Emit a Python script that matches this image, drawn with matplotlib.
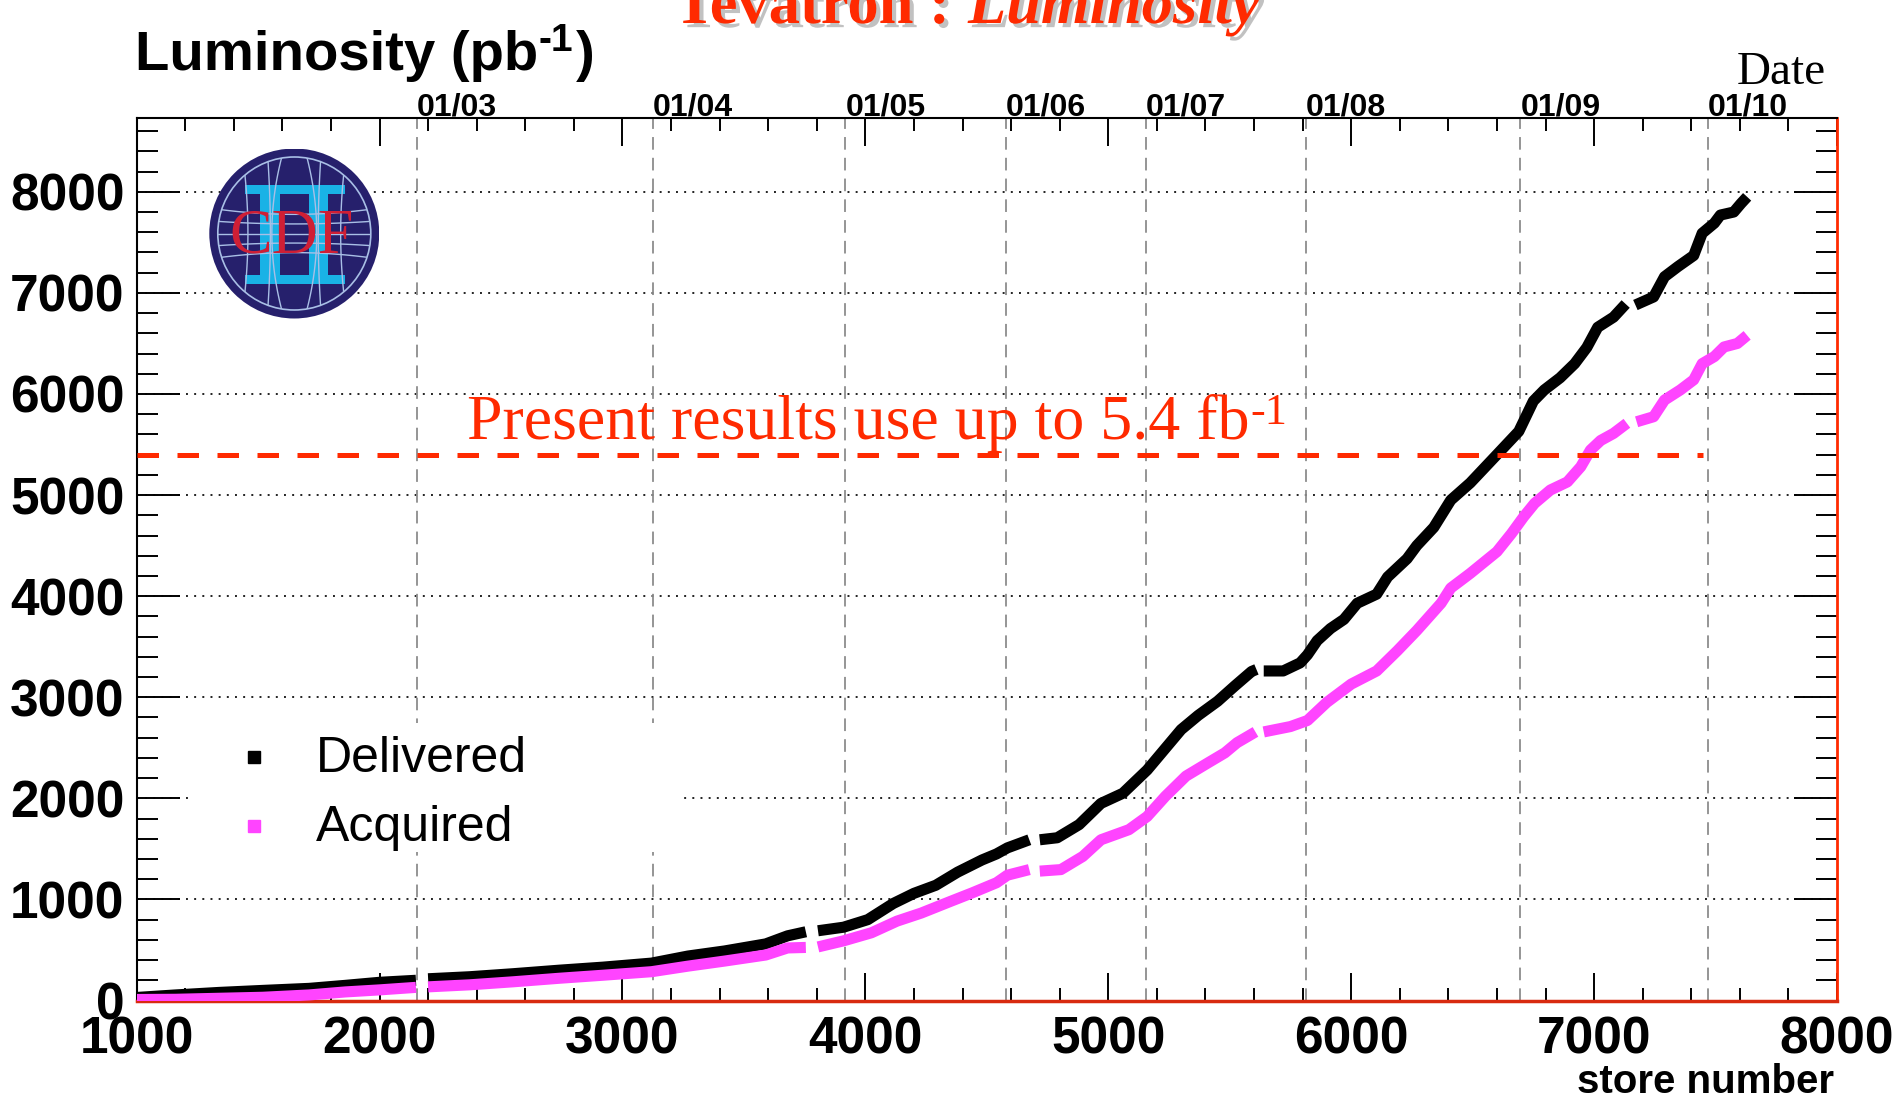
import numpy as np
import matplotlib
matplotlib.use('Agg')
import matplotlib.pyplot as plt
import matplotlib.patheffects as pe
from matplotlib.patches import Circle, Rectangle
from matplotlib.ticker import MultipleLocator

plt.rcParams['font.family'] = ['Liberation Sans', 'DejaVu Sans']

nan = np.nan

# -- data (nan = gap between stores)
deliv_store = [1000, 1160, 1340, 1520, 1710, 1860, 2000, 2150, nan,
               2200, 2370, 2550, 2740, 2920, 3120, 3270, 3420, 3590, 3680, 3755, nan,
               3805, 3910, 4010, 4115, 4200, 4290, 4380, 4480, 4540, 4585, 4675, nan,
               4718, 4790, 4880, 4970, 5060, 5160, 5230, 5300, 5370, 5450, 5520, 5590, 5610, nan,
               5640, 5720, 5790, 5820, 5860, 5915, 5970, 6025, 6105, 6150, 6230, 6270, 6340,
               6410, 6490, 6600, 6690, 6750, 6795, 6860, 6920, 6970, 7015, 7080, 7130, nan,
               7170, 7245, 7290, 7345, 7410, 7445, 7495, 7520, 7575, 7605, 7630]
deliv_lumi = [30, 55, 80, 100, 120, 150, 180, 200, nan,
              215, 235, 265, 300, 330, 370, 440, 490, 560, 640, 680, nan,
              690, 725, 800, 960, 1060, 1140, 1270, 1390, 1450, 1510, 1590, nan,
              1590, 1610, 1740, 1950, 2050, 2280, 2480, 2680, 2820, 2960, 3110, 3255, 3275, nan,
              3260, 3260, 3340, 3420, 3560, 3680, 3770, 3930, 4020, 4190, 4370, 4500, 4680,
              4950, 5120, 5400, 5630, 5930, 6040, 6160, 6300, 6460, 6660, 6760, 6890, nan,
              6880, 6960, 7160, 7260, 7370, 7590, 7690, 7770, 7800, 7885, 7950]

acq_store = [1000, 1160, 1340, 1520, 1710, 1860, 2000, 2150, nan,
             2200, 2370, 2550, 2740, 2920, 3120, 3270, 3420, 3590, 3680, 3755, nan,
             3805, 3910, 4025, 4130, 4230, 4350, 4440, 4540, 4585, 4675, nan,
             4718, 4805, 4895, 4970, 5085, 5160, 5235, 5320, 5410, 5480, 5530, 5606, nan,
             5640, 5750, 5820, 5900, 6000, 6105, 6190, 6270, 6370, 6410, 6490, 6600, 6660,
             6710, 6755, 6820, 6890, 6945, 6985, 7027, 7080, 7135, nan,
             7175, 7245, 7290, 7355, 7410, 7445, 7495, 7535, 7590, 7630]
acq_lumi = [10, 12, 22, 32, 55, 85, 105, 130, nan,
            135, 155, 185, 220, 250, 285, 340, 390, 450, 520, 525, nan,
            530, 590, 670, 785, 865, 980, 1065, 1165, 1240, 1295, nan,
            1280, 1295, 1425, 1590, 1690, 1820, 2020, 2220, 2350, 2450, 2550, 2657, nan,
            2657, 2710, 2770, 2950, 3130, 3260, 3460, 3660, 3930, 4080, 4225, 4440, 4620,
            4785, 4918, 5050, 5130, 5280, 5445, 5540, 5610, 5710, nan,
            5725, 5775, 5940, 6040, 6140, 6300, 6370, 6465, 6500, 6580]

date_labels = ['01/03', '01/04', '01/05', '01/06', '01/07', '01/08', '01/09', '01/10']
date_store = [2155, 3125, 3918, 4580, 5156, 5815, 6696, 7468]

x_ticks = [1000, 2000, 3000, 4000, 5000, 6000, 7000, 8000]
y_ticks = [0, 1000, 2000, 3000, 4000, 5000, 6000, 7000, 8000]

used_lumi = 5400
used_end = 7450

RED = '#ff2a00'
MAG = '#ff44ff'
W, H = 1896, 1100

fig = plt.figure(figsize=(W / 100, H / 100), dpi=100)
ax = fig.add_axes([0.07205, 0.09045, 0.89684, 0.80227])
ax.set_xlim(1000, 8000)
ax.set_ylim(0, 8730)

#-grid: dotted horizontals, dashed date lines
for y in y_ticks[1:]:
    ax.axhline(y, color='#222222', lw=1.4, dashes=(1, 3.2), zorder=1)
for s in date_store:
    ax.axvline(s, color='#8c8c8c', lw=1.3, dashes=(7, 4.5), zorder=1)

#-curves
ax.plot(deliv_store, deliv_lumi, color='black', lw=8, solid_capstyle='butt', zorder=3)
ax.plot(acq_store, acq_lumi, color=MAG, lw=8, solid_capstyle='butt', zorder=3)

#-5.4 fb-1 line
ax.plot([1000, used_end], [used_lumi, used_lumi], color=RED, lw=3.6,
        dashes=(4.3, 3.7), zorder=4)

#-ticks
ax.set_xticks(x_ticks)
ax.set_yticks(y_ticks)
ax.xaxis.set_minor_locator(MultipleLocator(200))
ax.yaxis.set_minor_locator(MultipleLocator(200))
ax.tick_params(which='both', direction='in', top=True, right=True, width=1.4, color='black')
ax.tick_params(axis='x', which='major', length=20, pad=10.5)
ax.tick_params(axis='x', which='minor', length=9.5)
ax.tick_params(axis='y', which='major', length=31, pad=8.7)
ax.tick_params(axis='y', which='minor', length=15)
for lab in ax.get_xticklabels() + ax.get_yticklabels():
    lab.set_fontsize(37)
    lab.set_fontweight('bold')

for side in ['left', 'top']:
    ax.spines[side].set_linewidth(1.5)
ax.spines['right'].set_color(RED)
ax.spines['right'].set_linewidth(2)
ax.spines['bottom'].set_color('#d82a10')
ax.spines['bottom'].set_linewidth(2.5)

#-date labels along the top
for s, lab in zip(date_store, date_labels):
    ax.text(s, 1.003, lab, transform=ax.get_xaxis_transform(), ha='left', va='baseline',
            fontsize=23, fontweight='bold', clip_on=False)

#-legend
ax.add_patch(Rectangle((0.0314, 0.168), 0.288, 0.1464, transform=ax.transAxes,
                       fc='white', ec='none', zorder=4))
ax.plot([0.069], [0.276], marker='s', ms=9, color='black', ls='none',
        transform=ax.transAxes, zorder=5)
ax.plot([0.069], [0.1977], marker='s', ms=9, color=MAG, ls='none',
        transform=ax.transAxes, zorder=5)
ax.text(0.1055, 0.259, 'Delivered', transform=ax.transAxes, fontsize=36, va='baseline', zorder=5)
ax.text(0.1055, 0.181, 'Acquired', transform=ax.transAxes, fontsize=36, va='baseline', zorder=5)


#-text with a plain "-1" superscript; x, y are pixels from the top-left corner
def sup_text(x, y, base, sup, size, sup_size, rise, tail='', **kw):
    t = fig.text(x / W, 1 - y / H, base, fontsize=size, ha='left', va='baseline', **kw)
    fig.canvas.draw()
    x1 = t.get_window_extent().x1 + 1
    s = fig.text(x1 / W, 1 - (y - rise) / H, sup, fontsize=sup_size, ha='left',
                 va='baseline', **kw)
    if tail:
        fig.canvas.draw()
        x2 = s.get_window_extent().x1 + 2
        fig.text(x2 / W, 1 - y / H, tail, fontsize=size, ha='left', va='baseline', **kw)


sup_text(134.7, 70, 'Luminosity (pb', '-1', 40.5, 28, 19, tail=')', fontweight='bold')
sup_text(466.7, 439.3, 'Present results use up to 5.4 fb', '-1', 46, 32, 15,
         family='Liberation Serif', color=RED, zorder=5)

#-titles and axis labels
fig.text(1826 / W, 1 - 83.5 / H, 'Date', family='Liberation Serif', fontsize=34,
         ha='right', va='baseline')
fig.text(1834 / W, 1 - 1093 / H, 'store number', fontsize=29, fontweight='bold',
         ha='right', va='baseline')
shadow = [pe.withSimplePatchShadow(offset=(3, -3), shadow_rgbFace='#999999', alpha=0.6)]
fig.text(950 / W, 1 - 23 / H, 'Tevatron :', family='Liberation Serif', fontsize=45,
         fontweight='bold', color=RED, ha='right', va='baseline', path_effects=shadow)
fig.text(968 / W, 1 - 23 / H, 'Luminosity', family='Liberation Serif', fontsize=45,
         fontweight='bold', style='italic', color=RED, ha='left', va='baseline',
         path_effects=shadow)

#-CDF II logo
lax = fig.add_axes([209.3 / W, 1 - 318.5 / H, 170 / W, 170 / H])
lax.set_xlim(-1, 1)
lax.set_ylim(-1, 1)
lax.axis('off')
lax.add_patch(Circle((0, 0), 1, fc='#26206c', ec='none'))
clip = Circle((0, 0), 0.9, transform=lax.transData)
t = np.linspace(-1, 1, 60)
for c in (-0.62, -0.32, 0.32, 0.62):
    ln, = lax.plot(c * (1 - 0.12 * (1 - t ** 2)), t, color='#a9bfe6', lw=1.0)
    ln.set_clip_path(clip)
for c in (-0.12, 0.12):
    ln, = lax.plot(c * (1 + 1.2 * (1 - t ** 2)), t, color='#a9bfe6', lw=1.0)
    ln.set_clip_path(clip)
for c in (-0.3, -0.15, 0.0, 0.15, 0.3):
    ln, = lax.plot(t, c * (1 - 0.25 * (1 - t ** 2)), color='#a9bfe6', lw=1.0)
    ln.set_clip_path(clip)
lax.add_patch(Circle((0, 0), 0.9, fc='none', ec='#a9bfe6', lw=1.2))
II = '#19b2e6'
lax.add_patch(Rectangle((-0.58, 0.47), 1.18, 0.10, fc=II, ec='none'))
lax.add_patch(Rectangle((-0.58, -0.59), 1.18, 0.10, fc=II, ec='none'))
lax.add_patch(Rectangle((-0.40, -0.49), 0.23, 0.96, fc=II, ec='none'))
lax.add_patch(Rectangle((0.17, -0.49), 0.23, 0.96, fc=II, ec='none'))
lax.text(-0.03, -0.22, 'CDF', family='Liberation Serif', fontsize=46, color='#cf1f35',
         ha='center', va='baseline')

fig.savefig('out.png', dpi=100)
